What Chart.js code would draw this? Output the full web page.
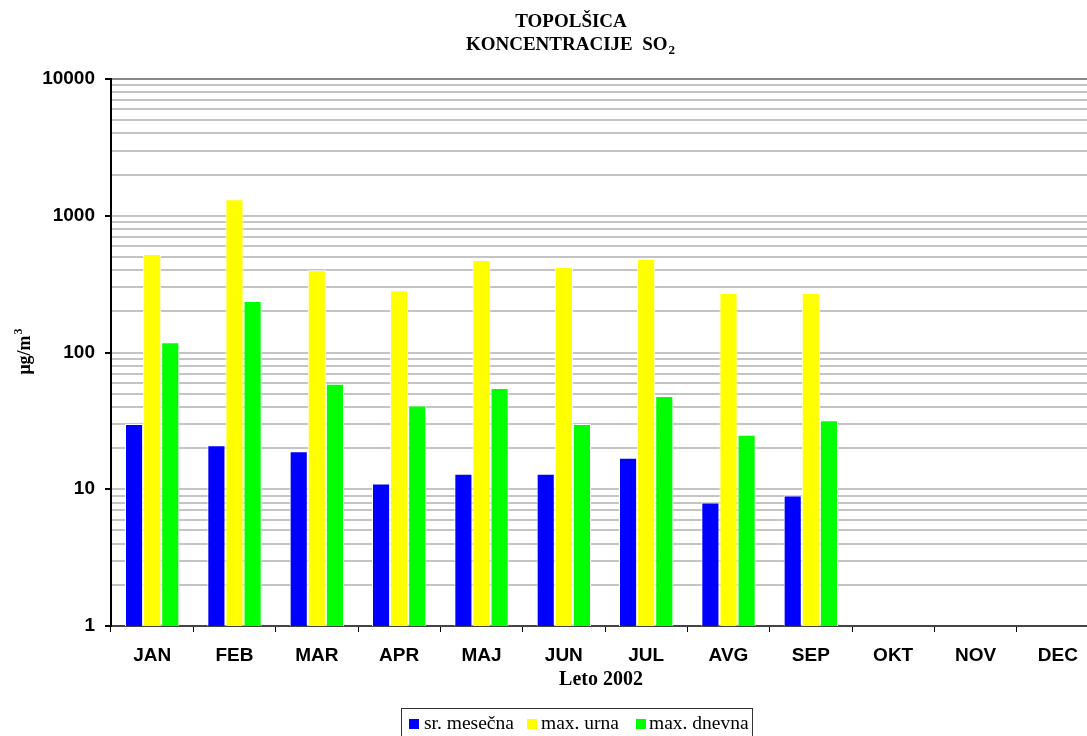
<!DOCTYPE html>
<html>
<head>
<meta charset="utf-8">
<script src="https://cdn.jsdelivr.net/npm/chart.js@4"></script>
<style>
html,body{margin:0;padding:0;background:#fff;overflow:hidden;}
#wrap{position:relative;width:1100px;height:736px;}
</style>
</head>
<body>
<div id="wrap"><canvas id="c"></canvas></div>
<script>
const months = ['JAN','FEB','MAR','APR','MAJ','JUN','JUL','AVG','SEP','OKT','NOV','DEC'];
const srMesecna = [30, 21, 19, 11, 13, 13, 17, 8, 9, null, null, null];
const maxUrna   = [525, 1320, 400, 285, 475, 422, 483, 272, 272, null, null, null];
const maxDnevna = [119, 238, 59, 41, 55, 30, 48, 25, 32, null, null, null];
const seriesNames = ['sr. mesečna', 'max. urna', 'max. dnevna'];
const seriesColors = ['#0000ff', '#ffff00', '#00ff00'];
const titleLine1 = 'TOPOLŠICA';
const titleLine2 = 'KONCENTRACIJE  SO';
const titleSub = '2';
const xTitle = 'Leto 2002';
const yTitle = 'μg/m';
const yTitleSup = '3';

const isDecade = v => Math.abs(Math.log10(v) - Math.round(Math.log10(v))) < 1e-9;

const decor = {
  id: 'decor',
  afterDraw(chart) {
    const ctx = chart.ctx;
    ctx.save();
    ctx.fillStyle = '#000';
    // title
    ctx.textAlign = 'left';
    ctx.textBaseline = 'alphabetic';
    ctx.font = 'bold 19px "Liberation Serif", serif';
    let w1 = ctx.measureText(titleLine1).width;
    ctx.fillText(titleLine1, 571 - w1 / 2, 27);
    let w2 = ctx.measureText(titleLine2).width;
    ctx.font = 'bold 13px "Liberation Serif", serif';
    let ws = ctx.measureText(titleSub).width;
    let x2 = 570 - (w2 + ws) / 2;
    ctx.font = 'bold 19px "Liberation Serif", serif';
    ctx.fillText(titleLine2, x2, 50);
    ctx.font = 'bold 13px "Liberation Serif", serif';
    ctx.fillText(titleSub, x2 + w2 + 1, 54);

    // x title
    ctx.font = 'bold 20px "Liberation Serif", serif';
    ctx.textAlign = 'center';
    ctx.fillText(xTitle, 601, 685);

    // y title
    ctx.save();
    ctx.translate(30, 352);
    ctx.rotate(-Math.PI / 2);
    ctx.font = 'bold 18px "Liberation Serif", serif';
    const wy = ctx.measureText(yTitle).width;
    ctx.font = 'bold 12px "Liberation Serif", serif';
    const wys = ctx.measureText(yTitleSup).width;
    const sx = -(wy + wys) / 2;
    ctx.textAlign = 'left';
    ctx.font = 'bold 18px "Liberation Serif", serif';
    ctx.fillText(yTitle, sx, 0);
    ctx.font = 'bold 12px "Liberation Serif", serif';
    ctx.fillText(yTitleSup, sx + wy + 1, -8);
    ctx.restore();

    // legend
    ctx.strokeStyle = '#333';
    ctx.lineWidth = 1;
    ctx.strokeRect(401.5, 708.5, 351, 40);
    ctx.font = '19.5px "Liberation Serif", serif';
    ctx.textAlign = 'left';
    const sqX = [409, 527, 636];
    const txX = [424, 541, 649];
    chart.data.datasets.forEach((ds, i) => {
      ctx.fillStyle = ds.backgroundColor;
      ctx.fillRect(sqX[i], 719, 10, 10);
      ctx.fillStyle = '#000';
      ctx.fillText(ds.label, txX[i], 729);
    });
    ctx.restore();
  }
};

new Chart(document.getElementById('c'), {
  type: 'bar',
  data: {
    labels: months,
    datasets: [srMesecna, maxUrna, maxDnevna].map((d, i) => ({
      label: seriesNames[i],
      data: d,
      backgroundColor: seriesColors[i],
      borderColor: '#ffffff',
      borderWidth: 1,
      borderSkipped: 'bottom',
      barPercentage: 1,
      categoryPercentage: 0.66
    }))
  },
  options: {
    responsive: true,
    maintainAspectRatio: false,
    animation: false,
    layout: { padding: { top: 79, bottom: 70, left: 0, right: 1 } },
    plugins: {
      legend: { display: false },
      title: { display: false },
      tooltip: { enabled: false }
    },
    scales: {
      x: {
        afterFit(scale) { scale.height = 40; },
        grid: {
          display: true,
          drawOnChartArea: false,
          drawTicks: true,
          tickLength: 6,
          color: '#000',
          lineWidth: 1,
          offset: true
        },
        border: { display: true, color: '#444', width: 2 },
        ticks: {
          color: '#000',
          padding: 12,
          maxRotation: 0,
          autoSkip: false,
          font: { family: '"Liberation Sans", Arial, sans-serif', size: 19, weight: 'bold' }
        }
      },
      y: {
        type: 'logarithmic',
        min: 1,
        max: 10000,
        afterFit(scale) { scale.width = 111; },
        afterBuildTicks(scale) {
          const t = [];
          for (let p = 0; p < 4; p++) {
            for (let m = 1; m < 10; m++) t.push({ value: m * Math.pow(10, p) });
          }
          t.push({ value: 10000 });
          scale.ticks = t;
        },
        grid: {
          drawTicks: true,
          tickLength: 6,
          lineWidth: 2,
          color: ctx => (ctx.tick && ctx.tick.value === 10000) ? '#888888' : '#c4c4c4',
          tickColor: ctx => (ctx.tick && isDecade(ctx.tick.value)) ? '#000' : 'rgba(0,0,0,0)',
          tickWidth: 2
        },
        border: { display: true, color: '#000', width: 2 },
        ticks: {
          autoSkip: false,
          color: '#000',
          padding: 10,
          font: { family: '"Liberation Sans", Arial, sans-serif', size: 19, weight: 'bold' },
          callback: v => isDecade(v) ? String(Math.round(v)) : ''
        }
      }
    }
  },
  plugins: [decor]
});
</script>
</body>
</html>
